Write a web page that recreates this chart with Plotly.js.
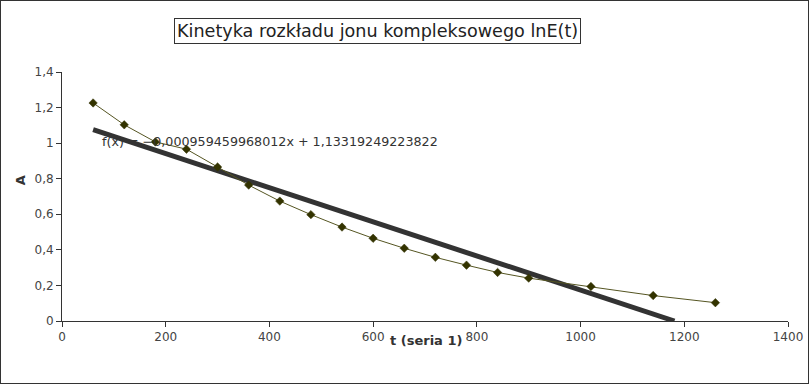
<!DOCTYPE html>
<html>
<head>
<meta charset="utf-8">
<script src="https://cdn.plot.ly/plotly-3.0.1.min.js"></script>
<style>
  html, body { margin: 0; padding: 0; background: #fff; }
  #wrap { position: relative; width: 809px; height: 384px; }
  #chart { width: 809px; height: 384px; }
  #frame { position: absolute; left: 0; top: 0; width: 809px; height: 384px; box-sizing: border-box; border: 1px solid #333; pointer-events: none; }
</style>
</head>
<body>
<div id="wrap"><div id="chart"></div><div id="frame"></div></div>
<script>
// Data
const tValues = [60, 120, 180, 240, 300, 360, 420, 480, 540, 600, 660, 720, 780, 840, 900, 1020, 1140, 1260];
const aValues = [1.226, 1.103, 1.007, 0.966, 0.866, 0.764, 0.674, 0.598, 0.528, 0.465, 0.409, 0.358, 0.314, 0.273, 0.241, 0.194, 0.143, 0.103];
// Linear trend line coefficients (as printed on the chart)
const trendSlope = -0.000959459968012;
const trendIntercept = 1.13319249223822;
const trendStart = 60;
const trendEnd = -trendIntercept / trendSlope; // where the trend reaches 0
const xTickVals = [0, 200, 400, 600, 800, 1000, 1200, 1400];
const yTickVals = [0, 0.2, 0.4, 0.6, 0.8, 1, 1.2, 1.4];
const chartTitle = "Kinetyka rozkładu jonu kompleksowego lnE(t)";
const equationText = "f(x) = −0,000959459968012x + 1,13319249223822";
const xTitle = "t (seria 1)";
const yTitle = "A";

const trendX = [trendStart, trendEnd];
const trendY = trendX.map(x => trendSlope * x + trendIntercept);

const font = "DejaVu Sans, sans-serif";

const traces = [
  {
    x: trendX, y: trendY, type: "scatter", mode: "lines",
    line: { color: "#333333", width: 5 },
    hoverinfo: "skip", showlegend: false
  },
  {
    x: tValues, y: aValues, type: "scatter", mode: "lines+markers",
    line: { color: "#555522", width: 1 },
    marker: { symbol: "diamond", size: 6.5, color: "#333300", line: { color: "#333300", width: 0.5 } },
    showlegend: false
  }
];

const layout = {
  width: 809, height: 384,
  margin: { l: 62, r: 21, t: 72, b: 63 },
  paper_bgcolor: "#ffffff", plot_bgcolor: "#ffffff",
  separators: ", ",
  font: { family: font, size: 12, color: "#444444" },
  showlegend: false,
  xaxis: {
    range: [0, 1400], tickvals: xTickVals,
    showgrid: false, zeroline: false,
    showline: true, linecolor: "#333333", linewidth: 1,
    ticks: "outside", ticklen: 5, tickcolor: "#333333", tickwidth: 1,
    tickfont: { family: font, size: 12, color: "#444444" }
  },
  yaxis: {
    range: [0, 1.4], tickvals: yTickVals,
    showgrid: false, zeroline: false,
    showline: true, linecolor: "#333333", linewidth: 1,
    ticks: "outside", ticklen: 5, tickcolor: "#333333", tickwidth: 1,
    tickfont: { family: font, size: 12, color: "#444444" }
  },
  annotations: [
    {
      text: chartTitle, xref: "paper", yref: "paper",
      x: 0.4345, y: 1.166, xanchor: "center", yanchor: "middle",
      showarrow: false, font: { family: font, size: 17.6, color: "#222222" },
      bordercolor: "#333333", borderwidth: 1, borderpad: 2, bgcolor: "#ffffff"
    },
    {
      text: equationText, xref: "paper", yref: "paper",
      x: 0.052, y: 0.72, xanchor: "left", yanchor: "middle",
      showarrow: false, font: { family: font, size: 12.7, color: "#333333" }
    },
    {
      text: "<b>" + xTitle + "</b>", xref: "paper", yref: "paper",
      x: 0.502, y: -0.077, xanchor: "center", yanchor: "middle",
      showarrow: false, font: { family: font, size: 13, color: "#333333" }
    },
    {
      text: "<b>" + yTitle + "</b>", xref: "paper", yref: "paper",
      x: -0.058, y: 0.565, xanchor: "center", yanchor: "middle",
      textangle: -90,
      showarrow: false, font: { family: font, size: 13, color: "#333333" }
    }
  ]
};

Plotly.newPlot("chart", traces, layout, { staticPlot: true, displayModeBar: false });
</script>
</body>
</html>
